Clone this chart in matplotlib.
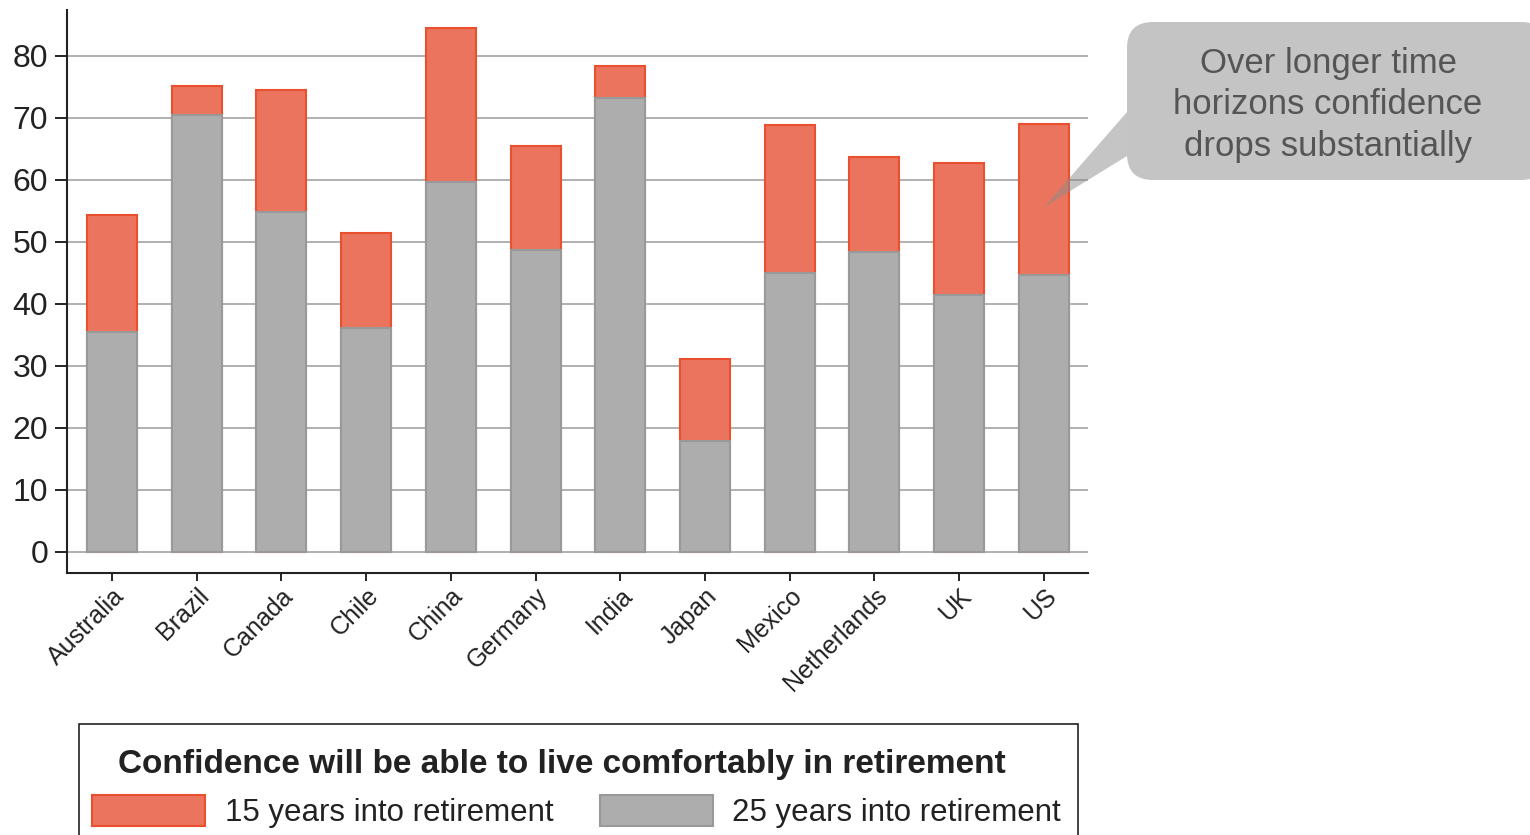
import matplotlib.pyplot as plt
from matplotlib.patches import Rectangle, FancyBboxPatch, Polygon
from matplotlib.transforms import IdentityTransform

plt.rcParams['font.family'] = ['Liberation Sans', 'DejaVu Sans']

countries = ["Australia", "Brazil", "Canada", "Chile", "China", "Germany",
             "India", "Japan", "Mexico", "Netherlands", "UK", "US"]
years_15 = [54.4, 75.2, 74.5, 51.5, 84.5, 65.5, 78.4, 31.1, 68.9, 63.7, 62.7, 69.0]
years_25 = [35.5, 70.5, 54.8, 36.1, 59.7, 48.7, 73.2, 17.9, 45.0, 48.4, 41.5, 44.7]
yticks = [0, 10, 20, 30, 40, 50, 60, 70, 80]

RED = "#eb745e"
RED_EDGE = "#e8502f"
GREY = "#adadad"
GREY_EDGE = "#999999"

W, H = 1530, 835
fig = plt.figure(figsize=(W / 100, H / 100), dpi=100)
ax = fig.add_axes([67 / W, 1 - 573 / H, (1088 - 67) / W, (573 - 10) / H])

x = list(range(len(countries)))
ax.bar(x, years_15, width=0.59, color=RED, edgecolor=RED_EDGE, linewidth=1.5, zorder=2)
ax.bar(x, years_25, width=0.59, color=GREY, edgecolor=GREY_EDGE, linewidth=1.5, zorder=3)

ax.set_xlim(-0.53, 11.52)
ax.set_ylim(-3.4, 87.4)
ax.set_yticks(yticks)
ax.yaxis.grid(True, color="#aaaaaa", linewidth=1.3)
ax.set_axisbelow(True)
ax.set_xticks(x)
ax.set_xticklabels(countries, rotation=45, ha="right", rotation_mode="anchor",
                   fontsize=18, color="#222222")
ax.tick_params(axis="y", labelsize=23, labelcolor="#222222", length=8.6, width=1.2, pad=5)
ax.tick_params(axis="x", length=5.8, width=1.2, pad=2)
for side in ("top", "right"):
    ax.spines[side].set_visible(False)
for side in ("left", "bottom"):
    ax.spines[side].set_linewidth(1.5)
    ax.spines[side].set_color("#222222")

# callout box with a pointer toward the US bar
tip = ax.transData.transform((11, 55.6))
pointer = Polygon([(1127, H - 112), tuple(tip), (1127, H - 156)], closed=True,
                  transform=IdentityTransform(), facecolor="#8c8c8c", alpha=0.5,
                  edgecolor="none")
fig.add_artist(pointer)
box = FancyBboxPatch((1127, H - 180), 420, 158, boxstyle="round,pad=0,rounding_size=26",
                     transform=IdentityTransform(), facecolor="#c4c4c4", edgecolor="none")
fig.add_artist(box)
fig.text(1328 / W, 1 - 105 / H, "Over longer time\nhorizons confidence\ndrops substantially",
         ha="center", va="center", fontsize=25, color="#555555", linespacing=1.33)

# legend block
frame = Rectangle((79, -10), 999, H - 724 + 10, transform=IdentityTransform(),
                  facecolor="white", edgecolor="#222222", linewidth=1.2)
fig.add_artist(frame)
fig.text(562 / W, 1 - 765 / H, "Confidence will be able to live comfortably in retirement",
         ha="center", va="center", fontsize=24, fontweight="bold", color="#222222")
fig.add_artist(Rectangle((92, H - 826), 113, 31, transform=IdentityTransform(),
                         facecolor=RED, edgecolor=RED_EDGE, linewidth=1.5))
fig.text(225 / W, 1 - 813 / H, "15 years into retirement", ha="left", va="center",
         fontsize=22.5, color="#222222")
fig.add_artist(Rectangle((600, H - 826), 113, 31, transform=IdentityTransform(),
                         facecolor=GREY, edgecolor=GREY_EDGE, linewidth=1.5))
fig.text(732 / W, 1 - 813 / H, "25 years into retirement", ha="left", va="center",
         fontsize=22.5, color="#222222")

fig.savefig("out.png", dpi=100)
